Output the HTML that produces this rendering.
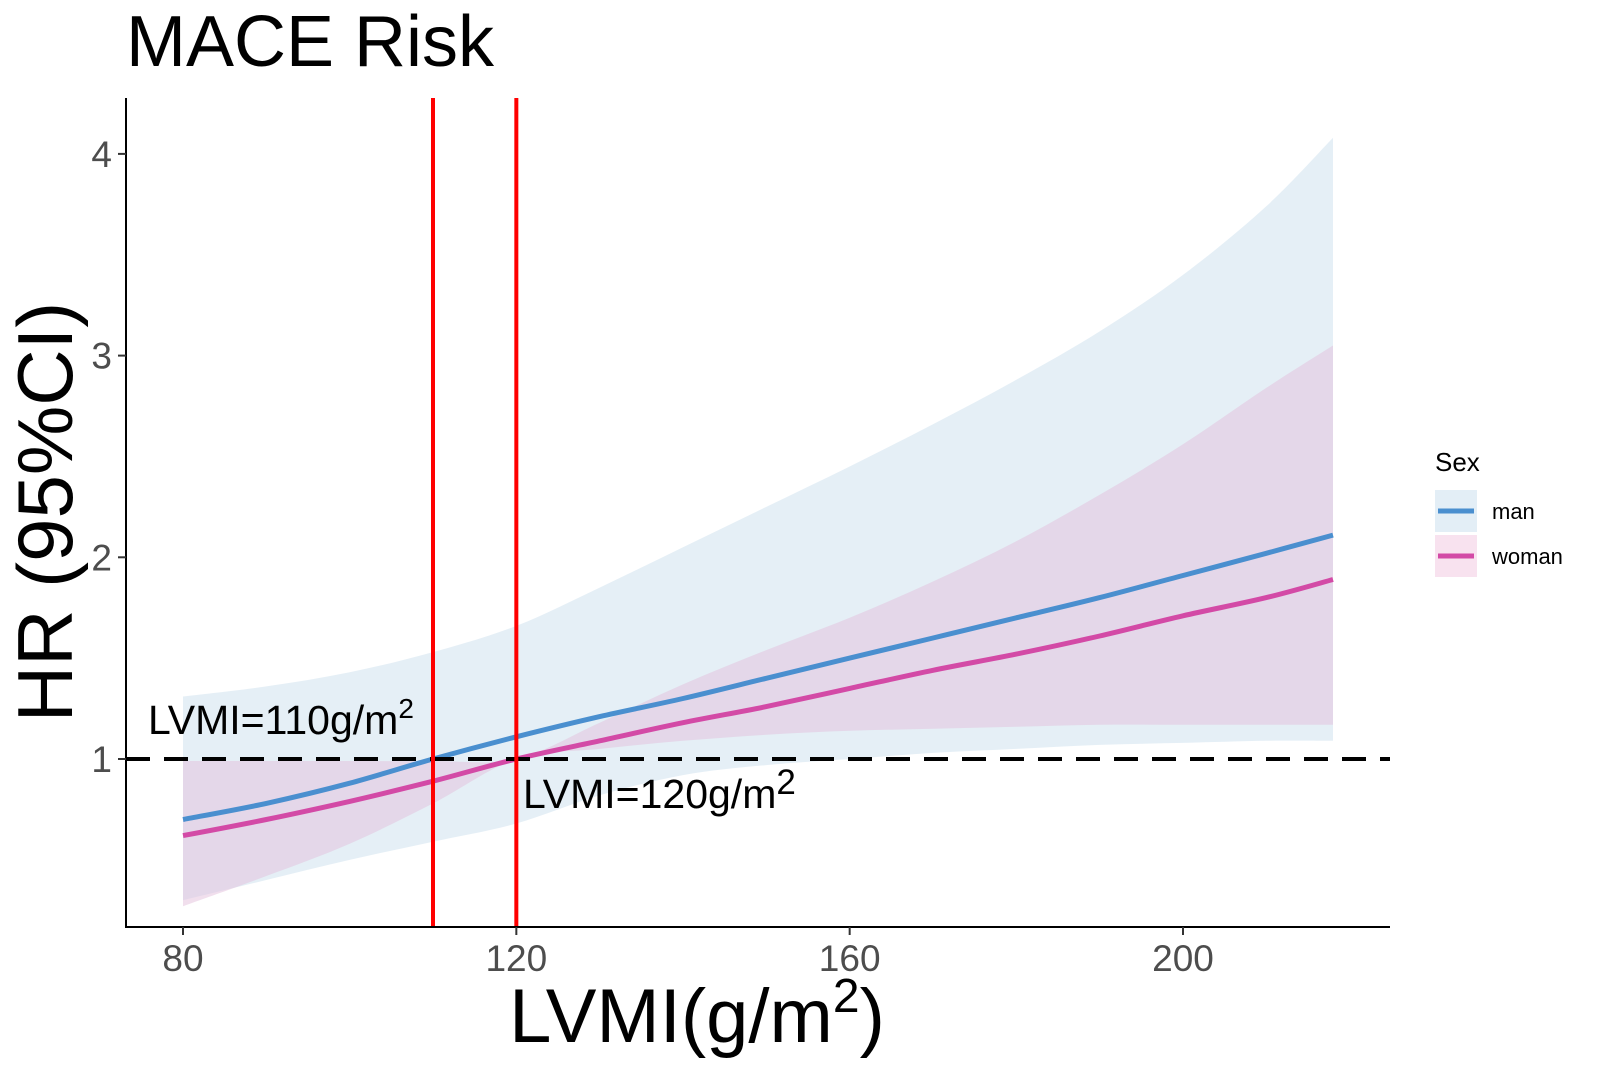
<!DOCTYPE html>
<html><head><meta charset="utf-8"><style>
body{margin:0;background:#fff}
svg{display:block;font-family:"Liberation Sans",Arial,sans-serif}
</style></head><body>
<svg id="chart" width="1605" height="1087" viewBox="0 0 1605 1087">
<text x="126" y="66" font-size="72">MACE Risk</text>
<g id="bands"></g>
<g id="lines"></g>
<g id="axes"></g>
<text transform="translate(72,512) rotate(-90)" text-anchor="middle" font-size="78">HR (95%CI)</text>
<text x="697" y="1042" text-anchor="middle" font-size="76">LVMI(g/m<tspan font-size="48" dy="-30">2</tspan><tspan dy="30">)</tspan></text>
<text x="148" y="734" font-size="41">LVMI=110g/m<tspan font-size="28" dy="-16">2</tspan></text>
<text x="523" y="808" font-size="41">LVMI=120g/m<tspan font-size="35" dy="-14">2</tspan></text>
<g>
<text x="1435" y="471" font-size="26">Sex</text>
<g>
<rect x="1435" y="490" width="42" height="42" fill="#e3eef6"/>
<line x1="1438" y1="511" x2="1474" y2="511" stroke="#4a8fcf" stroke-width="5"/>
<text x="1492" y="519" font-size="22">man</text></g>
<g>
<rect x="1435" y="535" width="42" height="42" fill="#f8e2ef"/>
<line x1="1438" y1="556" x2="1474" y2="556" stroke="#d34aa6" stroke-width="5"/>
<text x="1492" y="564" font-size="22">woman</text></g>
</g>
</svg>
<script>
const xs=[80,90,100,110,120,130,140,150,160,170,180,190,200,210,218];
const manHR=[0.70,0.78,0.88,1.0,1.11,1.21,1.30,1.40,1.50,1.60,1.70,1.80,1.91,2.02,2.11];
const womanHR=[0.62,0.70,0.79,0.89,1.0,1.09,1.18,1.26,1.35,1.44,1.52,1.61,1.71,1.80,1.89];
const manUpper=[1.31,1.36,1.43,1.53,1.66,1.85,2.05,2.25,2.45,2.66,2.88,3.12,3.40,3.74,4.08];
const manLower=[0.30,0.40,0.50,0.59,0.68,0.82,0.92,0.97,1.0,1.03,1.05,1.07,1.08,1.09,1.09];
const womanUpper=[0.99,0.99,0.99,0.99,1.0,1.18,1.37,1.54,1.70,1.88,2.08,2.31,2.56,2.84,3.05];
const womanLower=[0.27,0.42,0.58,0.78,1.0,1.05,1.09,1.12,1.14,1.15,1.16,1.17,1.17,1.17,1.17];
const xTicks=[80,120,160,200];
const yTicks=[1,2,3,4];
const cutoffs=[110,120];
const refHR=1;
const X=v=>183+(v-80)*(1183-183)/120;
const Y=v=>759-(v-1)*201.7;
const NS="http://www.w3.org/2000/svg";
function mk(t,a,p){const e=document.createElementNS(NS,t);for(const k in a)e.setAttribute(k,a[k]);p.appendChild(e);return e;}
function pts(ys){return ys.map((y,i)=>[X(xs[i]),Y(y)]);}
function smooth(p,start){let d=(start?"M":"L")+p[0][0].toFixed(1)+","+p[0][1].toFixed(1);
for(let i=0;i<p.length-1;i++){const p0=p[i-1]||p[i],p1=p[i],p2=p[i+1],p3=p[i+2]||p2;
const c1=[p1[0]+(p2[0]-p0[0])/6,p1[1]+(p2[1]-p0[1])/6],c2=[p2[0]-(p3[0]-p1[0])/6,p2[1]-(p3[1]-p1[1])/6];
d+="C"+c1.map(v=>v.toFixed(1))+" "+c2.map(v=>v.toFixed(1))+" "+p2.map(v=>v.toFixed(1));}
return d;}
function path(ys){return smooth(pts(ys),true);}
function band(up,lo){return smooth(pts(up),true)+smooth(pts(lo).reverse(),false)+"Z";}
const B=document.getElementById("bands"),L=document.getElementById("lines"),A=document.getElementById("axes");
let e=mk("path",{d:band(manUpper,manLower),fill:"#cfe1ef","fill-opacity":"0.55"},B);


e=mk("path",{d:band(womanUpper,womanLower),fill:"#e3bfdc","fill-opacity":"0.5"},B);


e=mk("path",{d:path(manHR),fill:"none",stroke:"#4a8fcf","stroke-width":"5"},L);


e=mk("path",{d:path(womanHR),fill:"none",stroke:"#d34aa6","stroke-width":"5"},L);


e=mk("line",{x1:126,x2:1390,y1:Y(refHR),y2:Y(refHR),stroke:"#000","stroke-width":"4","stroke-dasharray":"24 14"},L);


cutoffs.forEach(c=>{const r=mk("line",{x1:X(c),x2:X(c),y1:98,y2:927,stroke:"#f00","stroke-width":"4"},L);

});
e=mk("line",{x1:126,x2:126,y1:98,y2:928,stroke:"#000","stroke-width":"2"},A);


e=mk("line",{x1:125,x2:1390,y1:927,y2:927,stroke:"#000","stroke-width":"2"},A);


xTicks.forEach(t=>{mk("line",{x1:X(t),x2:X(t),y1:927,y2:935,stroke:"#333","stroke-width":"2"},A);
const tx=mk("text",{x:X(t),y:971,"text-anchor":"middle","font-size":"37",fill:"#4d4d4d"},A);tx.textContent=t;

});
yTicks.forEach(t=>{mk("line",{x1:118,x2:126,y1:Y(t),y2:Y(t),stroke:"#333","stroke-width":"2"},A);
const tx=mk("text",{x:112,y:Y(t)+13,"text-anchor":"end","font-size":"37",fill:"#4d4d4d"},A);tx.textContent=t;

});
</script>
</body></html>
